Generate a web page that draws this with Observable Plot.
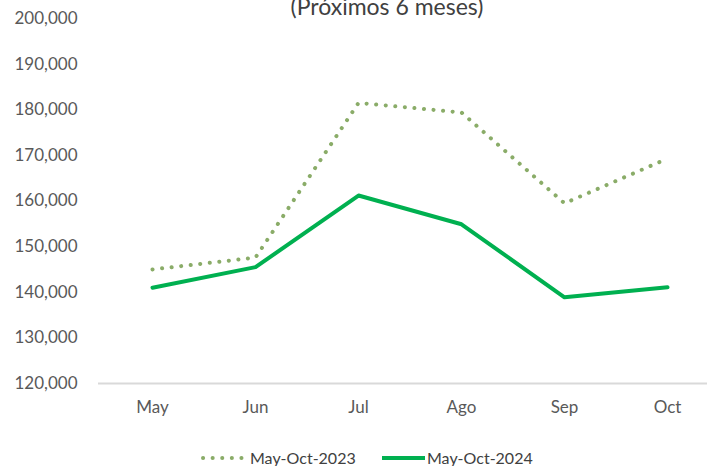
<!DOCTYPE html>
<html>
<head>
<meta charset="utf-8">
<script src="https://cdn.jsdelivr.net/npm/d3@7"></script>
<script src="https://cdn.jsdelivr.net/npm/@observablehq/plot@0.6"></script>
<style>
  html, body { margin: 0; padding: 0; background: #fff; }
  #wrap { position: relative; width: 707px; height: 466px; overflow: hidden; font-family: Lato, "Open Sans", sans-serif; }
  #title { position: absolute; left: 0; width: 774px; top: -8px; text-align: center; font-size: 23px; line-height: 28px; color: #404040; }
  #chart { position: absolute; left: 0; top: 0; }
  #legend { position: absolute; left: 0; width: 707px; top: 448px; height: 20px; font-size: 16px; line-height: 20px; color: #404040; }
  .item { position: absolute; top: 0; display: flex; align-items: center; }
</style>
</head>
<body>
<div id="wrap">
  <div id="chart"></div>
  <div id="title">(Próximos 6 meses)</div>
  <div id="legend"></div>
</div>
<script>
const months = ["May", "Jun", "Jul", "Ago", "Sep", "Oct"];
const series2023 = [145000, 147600, 181500, 179400, 159500, 169300];
const series2024 = [141000, 145500, 161200, 154900, 138900, 141100];
const seriesNames = ["May-Oct-2023", "May-Oct-2024"];
const yTicks = [120000, 130000, 140000, 150000, 160000, 170000, 180000, 190000, 200000];

const colors = { "May-Oct-2023": "#8aac68", "May-Oct-2024": "#00b050" };

const d23 = months.map((m, i) => ({ month: m, value: series2023[i] }));
const d24 = months.map((m, i) => ({ month: m, value: series2024[i] }));

const fmt = d3.format(",");

const chart = Plot.plot({
  width: 707,
  height: 440,
  marginLeft: 98,
  marginRight: 0,
  marginTop: 18,
  marginBottom: 57,
  style: { fontFamily: "Lato, 'Open Sans', sans-serif", fontSize: "17px", color: "#595959", background: "transparent" },
  x: { type: "point", domain: months, range: [150, 668], padding: 0, label: null },
  y: { domain: [120000, 200000], label: null },
  marks: [
    Plot.axisY({ ticks: yTicks, tickFormat: fmt, tickSize: 0, tickPadding: 21, label: null, fontSize: 17 }),
    Plot.axisX({ tickSize: 0, tickPadding: 17, label: null, fontSize: 17 }),
    Plot.ruleY([120000], { stroke: "#d9d9d9", strokeWidth: 2 }),
    Plot.line(d23, { x: "month", y: "value", stroke: colors["May-Oct-2023"], strokeWidth: 4, strokeDasharray: "0.1 9.5", strokeLinecap: "round", strokeLinejoin: "round" }),
    Plot.line(d24, { x: "month", y: "value", stroke: colors["May-Oct-2024"], strokeWidth: 4, strokeLinejoin: "round" })
  ]
});
document.getElementById("chart").appendChild(chart);

const legend = document.getElementById("legend");
const legendLeft = [200, 380];
seriesNames.forEach((name, i) => {
  const item = document.createElement("div");
  item.className = "item";
  item.style.left = legendLeft[i] + "px";
  const sw = d3.create("svg").attr("width", i === 0 ? 50 : 47).attr("height", 10);
  const ln = sw.append("line").attr("y1", 5).attr("y2", 5)
    .attr("stroke", colors[name]).attr("stroke-width", 4);
  if (i === 0) ln.attr("x1", 3).attr("x2", 43).attr("stroke-dasharray", "0.1 9.5").attr("stroke-linecap", "round");
  else ln.attr("x1", 2).attr("x2", 45);
  item.appendChild(sw.node());
  const t = document.createElement("span");
  t.textContent = name;
  item.appendChild(t);
  legend.appendChild(item);
});
</script>
</body>
</html>
